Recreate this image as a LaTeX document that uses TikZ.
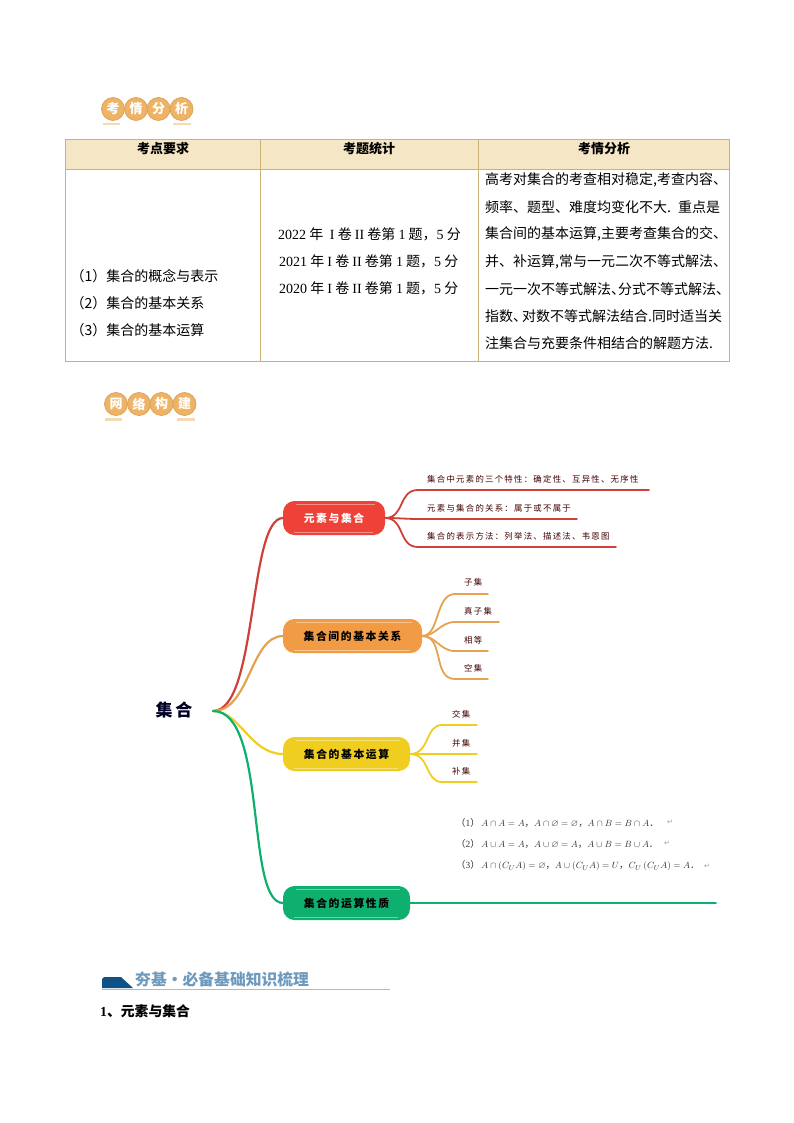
\documentclass[tikz,border=0pt]{standalone}
\usepackage{amsmath,amssymb}
\usepackage{fontspec}
\setmainfont{Liberation Serif}
\newfontfamily\cjk{Noto Sans CJK SC}
\newfontfamily\cjkwide[LetterSpace=15]{Noto Sans CJK SC}
\newfontfamily\symfont{DejaVu Sans}
\definecolor{tableline}{HTML}{C9B377}
\definecolor{tablehead}{HTML}{F5E6C6}
\definecolor{badgecol}{HTML}{EFB366}
\definecolor{barcol}{HTML}{F5D9B5}
\definecolor{redcol}{HTML}{EE4238}
\definecolor{redline}{HTML}{CF4038}
\definecolor{orangecol}{HTML}{F29B45}
\definecolor{orangeline}{HTML}{E5A250}
\definecolor{yellowcol}{HTML}{F0CE20}
\definecolor{greencol}{HTML}{0FAF70}
\definecolor{headblue}{HTML}{0F5288}
\definecolor{headtext}{HTML}{6E9ABD}
\definecolor{headrule}{HTML}{A8BCCC}
\tikzset{
  badge/.style={circle,draw=badgecol!90!black,line width=0.7pt,fill=badgecol,minimum size=23pt,inner sep=0pt,text=white,font=\cjk\bfseries\fontsize{13}{13}\selectfont},
  headcell/.style={font=\cjk\bfseries\fontsize{13}{13}\selectfont,inner sep=0pt},
  bodytext/.style={anchor=west,inner sep=0pt,font=\cjk\fontsize{14}{14}\selectfont},
  mainnode/.style={rounded corners=11pt,fill=#1,draw=#1,line width=1pt,inner sep=0pt,minimum height=33pt,text=black,font=\cjkwide\bfseries\fontsize{10.8}{11}\selectfont,
    path picture={
      \draw[white,opacity=0.4,line width=0.5pt] ([shift={(12pt,-2.5pt)}]path picture bounding box.north west) -- ([shift={(-10pt,-2.5pt)}]path picture bounding box.north east);
      \draw[white,opacity=0.4,line width=0.5pt] ([shift={(10pt,2.5pt)}]path picture bounding box.south west) -- ([shift={(-12pt,2.5pt)}]path picture bounding box.south east);
    }},
  leaftext/.style={anchor=west,inner sep=0pt,text=black!75!red,font=\cjkwide\fontsize{8.4}{9}\selectfont},
  branch/.style={line width=2.2pt,color=#1,line cap=round},
  twig/.style={line width=1.8pt,color=#1,line cap=round},
  mathtext/.style={anchor=west,inner sep=0pt,text=black!80,font=\cjk\fontsize{9.4}{10}\selectfont},
  markret/.style={anchor=west,inner sep=0pt,text=black!40,font=\symfont\fontsize{7}{7}\selectfont}
}
\begin{document}
\begin{tikzpicture}[x=1pt,y=-1pt]
  \useasboundingbox (0,0) rectangle (794,1123);

  % Badges above the table
  \node[badge] (kao) at (113,109) {考};
  \node[badge] (qing) at (136,109) {情};
  \node[badge] (fen) at (158.5,109) {分};
  \node[badge] (xi) at (181.5,109) {析};
  \fill[barcol] (103,123) rectangle (120,125.5);
  \fill[barcol] (173,123) rectangle (191,125.5);

  % Table
  \fill[tablehead] (65,139) rectangle (729,169);
  \draw[tableline,line width=0.8pt] (65,139) rectangle (729,361);
  \draw[tableline,line width=0.8pt] (65,169) -- (729,169);
  \draw[tableline,line width=0.8pt] (260,139) -- (260,361);
  \draw[tableline,line width=0.8pt] (478,139) -- (478,361);
  \node[headcell] (heada) at (163,149) {考点要求};
  \node[headcell] (headb) at (369,149) {考题统计};
  \node[headcell] (headc) at (604,149) {考情分析};

  % First column
  \node[bodytext] (reqa) at (70.5,276) {（1）集合的概念与表示};
  \node[bodytext] (reqb) at (70.5,303) {（2）集合的基本关系};
  \node[bodytext] (reqc) at (70.5,330) {（3）集合的基本运算};

  % Second column
  \node[bodytext] (yeara) at (278,234) {{\rmfamily 2022} 年 {\rmfamily\ I} 卷 {\rmfamily II} 卷第 {\rmfamily 1} 题，{\rmfamily 5} 分};
  \node[bodytext] (yearb) at (279,261) {{\rmfamily 2021} 年 {\rmfamily I} 卷 {\rmfamily II} 卷第 {\rmfamily 1} 题，{\rmfamily 5} 分};
  \node[bodytext] (yearc) at (279,288) {{\rmfamily 2020} 年 {\rmfamily I} 卷 {\rmfamily II} 卷第 {\rmfamily 1} 题，{\rmfamily 5} 分};

  % Third column
  \node[bodytext] (lineA) at (485,180) {高考对集合的考查相对稳定,考查内容、};
  \node[bodytext] (lineB) at (485,207) {频率、题型、难度均变化不大.\kern4pt\ 重点是};
  \node[bodytext] (lineC) at (485,234) {集合间的基本运算,主要考查集合的交、};
  \node[bodytext] (lineD) at (485,262) {并、补运算,常与一元二次不等式解法、};
  \node[bodytext] (lineE) at (485,289) {一元一次不等式解法、\kern-7pt 分式不等式解法、};
  \node[bodytext] (lineF) at (485,316) {指数、\kern-5pt 对数不等式解法结合.同时适当关};
  \node[bodytext] (lineG) at (485,343) {注集合与充要条件相结合的解题方法.};

  % Badges above the map
  \node[badge] (wang) at (116,404) {网};
  \node[badge] (luo) at (139,404) {络};
  \node[badge] (gou) at (161.5,404) {构};
  \node[badge] (jian) at (184.5,404) {建};
  \fill[barcol] (105,418) rectangle (122,420.5);
  \fill[barcol] (177,418) rectangle (195,420.5);

  % Root and main nodes
  \node[inner sep=0pt,text=black!85!blue,font=\cjkwide\bfseries\fontsize{17}{18}\selectfont] (root) at (174,710) {集合};
  \coordinate (hub) at (213,711);
  \node[mainnode=redcol,minimum width=101pt,text=white] (elem) at (334,518) {元素与集合};
  \node[mainnode=orangecol,minimum width=138pt] (rel) at (352.5,636) {集合间的基本关系};
  \node[mainnode=yellowcol,minimum width=126pt] (oper) at (346.5,754) {集合的基本运算};
  \node[mainnode=greencol,minimum width=126pt] (prop) at (346.5,903) {集合的运算性质};

  % Main branches
  \draw[branch=redline] (hub) .. controls (258,711) and (248,518) .. (elem.west);
  \draw[branch=orangeline] (hub) .. controls (250,711) and (250,636) .. (rel.west);
  \draw[branch=yellowcol] (hub) .. controls (240,711) and (250,754) .. (oper.west);
  \draw[branch=greencol] (hub) .. controls (268,711) and (245,903) .. (prop.west);

  % Red leaves
  \node[leaftext] (elema) at (427,479) {集合中元素的三个特性：确定性、互异性、无序性};
  \node[leaftext] (elemb) at (427,508) {元素与集合的关系：属于或不属于};
  \node[leaftext] (elemc) at (427,536) {集合的表示方法：列举法、描述法、韦恩图};
  \coordinate (enda) at (649,490);
  \coordinate (endb) at (577,519);
  \coordinate (endc) at (616,547);
  \draw[twig=redline] (elem.east) .. controls (405,518) and (398,490) .. (418,490) -- (enda);
  \draw[twig=redline] (elem.east) .. controls (400,518) and (405,519) .. (420,519) -- (endb);
  \draw[twig=redline] (elem.east) .. controls (405,518) and (398,547) .. (418,547) -- (endc);

  % Orange leaves
  \node[leaftext] (rela) at (464,582) {子集};
  \node[leaftext] (relb) at (464,611) {真子集};
  \node[leaftext] (relc) at (464,640) {相等};
  \node[leaftext] (reld) at (464,668) {空集};
  \coordinate (enda2) at (488,594);
  \coordinate (endb2) at (499,622);
  \coordinate (endc2) at (488,651);
  \coordinate (endd2) at (488,679);
  \draw[twig=orangeline] (rel.east) .. controls (440,636) and (435,594) .. (455,594) -- (enda2);
  \draw[twig=orangeline] (rel.east) .. controls (436,636) and (440,622) .. (455,622) -- (endb2);
  \draw[twig=orangeline] (rel.east) .. controls (436,636) and (440,651) .. (455,651) -- (endc2);
  \draw[twig=orangeline] (rel.east) .. controls (445,636) and (432,679) .. (455,679) -- (endd2);

  % Yellow leaves
  \node[leaftext] (opera) at (452,714) {交集};
  \node[leaftext] (operb) at (452,743) {并集};
  \node[leaftext] (operc) at (452,771) {补集};
  \coordinate (enda3) at (477,725);
  \coordinate (endb3) at (477,754);
  \coordinate (endc3) at (477,782);
  \draw[twig=yellowcol] (oper.east) .. controls (430,754) and (425,725) .. (442,725) -- (enda3);
  \draw[twig=yellowcol] (oper.east) .. controls (425,754) and (430,754) .. (442,754) -- (endb3);
  \draw[twig=yellowcol] (oper.east) .. controls (430,754) and (425,782) .. (442,782) -- (endc3);

  % Green branch
  \coordinate (endgreen) at (716,903);
  \draw[twig=greencol] (prop.east) -- (endgreen);

  % Formulas
  \node[mathtext] (propa) at (456,823) {（{\rmfamily 1}）\,$A\cap A=A$，$A\cap\varnothing=\varnothing$，$A\cap B=B\cap A$．};
  \node[mathtext] (propb) at (456,844) {（{\rmfamily 2}）\,$A\cup A=A$，$A\cup\varnothing=A$，$A\cup B=B\cup A$．};
  \node[mathtext] (propc) at (456,866) {（{\rmfamily 3}）\,$A\cap\left(C_UA\right)=\varnothing$，$A\cup\left(C_UA\right)=U$，$C_U\left(C_UA\right)=A$．};
  \node[markret] (reta) at (667,822) {↵};
  \node[markret] (retb) at (664,843) {↵};
  \node[markret] (retc) at (704,866) {↵};

  % Section heading
  \fill[headblue] (102,988) -- (102,979) -- (104,977) -- (121,977) -- (133,988) -- cycle;
  \draw[headrule,line width=0.8pt] (102,989.5) -- (390,989.5);
  \node[anchor=west,inner sep=0pt,text=headtext,font=\cjk\bfseries\fontsize{15.8}{18}\selectfont] (section) at (135,979) {夯基·必备基础知识梳理};
  \node[anchor=west,inner sep=0pt,font=\cjk\bfseries\fontsize{13.8}{14}\selectfont] (subsection) at (100,1011) {{\rmfamily 1}、元素与集合};
\end{tikzpicture}
\end{document}
